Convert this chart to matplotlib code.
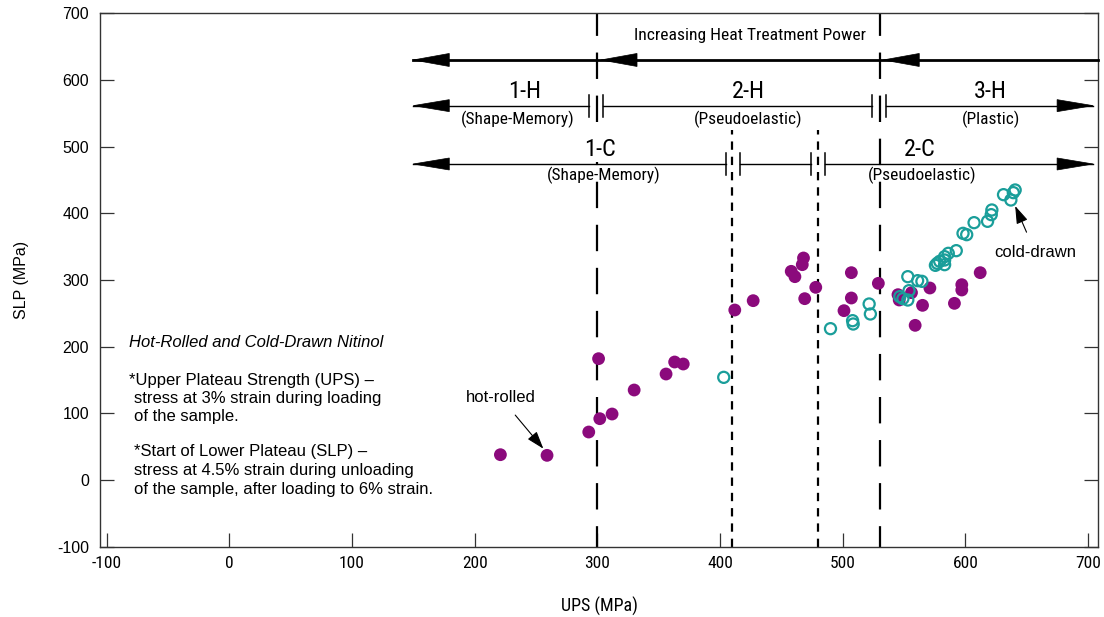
import matplotlib
matplotlib.use('Agg')
import matplotlib.pyplot as plt
from matplotlib.patches import Polygon
from matplotlib import font_manager as fm

plt.rcParams['lines.scale_dashes'] = False
REG = ['Liberation Sans', 'DejaVu Sans']
plt.rcParams['font.family'] = REG

# pick a narrow font if one is installed
_names = {f.name for f in fm.fontManager.ttflist}
_narrow = [n for n in ['Liberation Sans Narrow', 'Arial Narrow', 'Roboto Condensed',
                       'DejaVu Sans Condensed', 'Open Sans Condensed'] if n in _names]
if _narrow:
    NARROW = [_narrow[0], 'Liberation Sans', 'DejaVu Sans']
    NS = 1.0
else:
    NARROW = REG
    NS = 0.89

# ---------------- data ----------------
hot_ups = [221, 259, 293, 302, 301, 312, 330, 356, 363, 370, 412, 427, 458, 461,
           468, 467, 469, 478, 501, 507, 507, 529, 545, 546, 556, 559, 565, 571,
           591, 597, 597, 612]
hot_slp = [38, 37, 72, 92, 182, 99, 135, 159, 177, 174, 255, 269, 313, 305,
           333, 323, 272, 289, 254, 311, 273, 295, 278, 270, 281, 232, 262, 288,
           265, 293, 285, 311]

cold_ups = [403, 490, 508, 508.5, 521.5, 522.5, 546.5, 549, 553, 554, 553, 561,
            564.5, 575.5, 577, 579, 583, 583, 583, 586, 592.5, 598, 601, 607, 618,
            621, 621.5, 631, 637, 639, 640.5]
cold_slp = [154, 227, 239, 234, 264, 249, 275, 272, 270, 284, 305, 299,
            298, 322, 325, 328, 323, 330, 335, 340, 344, 370, 368, 386, 388,
            398, 405, 428, 420, 431, 435]

x_ticks = [-100, 0, 100, 200, 300, 400, 500, 600, 700]
y_ticks = [-100, 0, 100, 200, 300, 400, 500, 600, 700]

major_bounds = [300, 530]
minor_bounds = [410, 480]

PURPLE = '#8b0a7c'
TEAL = '#1a9e9a'

# ---------------- figure ----------------
W, H = 1104, 617
fig = plt.figure(figsize=(W / 100, H / 100), dpi=100)
L_px, R_px, T_px, B_px = 100, 1098, 13.3, 546.7
ax = fig.add_axes([L_px / W, 1 - B_px / H, (R_px - L_px) / W, (B_px - T_px) / H])
XL, XR, YB, YT = -105.3, 708, -100, 700
ax.set_xlim(XL, XR)
ax.set_ylim(YB, YT)
sx = (R_px - L_px) / (XR - XL)   # px per data unit
sy = (B_px - T_px) / (YT - YB)

# boundary lines
for xb in major_bounds:
    ax.plot([xb, xb], [YB, YT], color='black', lw=1.6,
            linestyle=(4, (19, 12)), zorder=2)
for xb in minor_bounds:
    ax.plot([xb, xb], [YB, 525], color='black', lw=1.6,
            linestyle=(0, (6, 5)), zorder=2)


def head(xtip, y, d, Lp=36, Wp=6):
    base = xtip - d * Lp / sx
    ax.add_patch(Polygon([(xtip, y), (base, y + Wp / sy), (base, y - Wp / sy)],
                         closed=True, facecolor='black', edgecolor='black',
                         lw=0.5, zorder=4))


def brk(x, y, hp=11):
    ax.plot([x, x], [y - hp / sy, y + hp / sy], color='black', lw=1.1, zorder=4)


# Row 1: increasing heat treatment power
y1 = 630
ax.plot([150, XR], [y1, y1], color='black', lw=2.0, zorder=3, clip_on=False)
for xt in [150, 303, 533]:
    head(xt, y1, -1, Lp=36, Wp=6.5)
ax.text(424, 666, 'Increasing Heat Treatment Power', family=NARROW,
        fontsize=12.6 * NS, ha='center', va='center')

# Row 2: hot-rolled regions
y2 = 561.5
for a, b in [(150, 293.5), (305, 523.5), (535.5, 704)]:
    ax.plot([a, b], [y2, y2], color='black', lw=1.0, zorder=3)
head(150, y2, -1)
head(704, y2, 1)
for xb in [293.5, 305, 523.5, 535.5]:
    brk(xb, y2)

# Row 3: cold-drawn regions
y3 = 474
for a, b in [(150, 405), (416, 474.5), (485.5, 704)]:
    ax.plot([a, b], [y3, y3], color='black', lw=1.0, zorder=3)
head(150, y3, -1)
head(704, y3, 1)
for xb in [405, 416, 474.5, 485.5]:
    brk(xb, y3)

big = 17.5 if _narrow else 17
small = 12.5 * NS
for x, y, s, fs in [(241, 582, '1-H', big), (235, 541, '(Shape-Memory)', small),
                    (423, 582, '2-H', big), (423, 541, '(Pseudoelastic)', small),
                    (620, 582, '3-H', big), (621, 541, '(Plastic)', small),
                    (563, 496, '2-C', big), (565, 457, '(Pseudoelastic)', small)]:
    ax.text(x, y, s, family=NARROW, fontsize=fs, ha='center', va='center', zorder=5)
ax.text(302, 496, '1-C', family=NARROW, fontsize=big, ha='center', va='center',
        zorder=5, bbox=dict(facecolor='white', edgecolor='none', pad=0.5))
ax.text(305, 457, '(Shape-Memory)', family=NARROW, fontsize=small, ha='center',
        va='center', zorder=5)

# data
ax.scatter(hot_ups, hot_slp, s=85, color=PURPLE, edgecolors='none', zorder=6)
ax.scatter(cold_ups, cold_slp, s=64, facecolors='none', edgecolors=TEAL,
           linewidths=1.6, zorder=7)

# annotations
ax.annotate('hot-rolled', xy=(256, 47), xytext=(221, 124),
            fontsize=12, ha='center', va='center',
            arrowprops=dict(arrowstyle='-|>,head_length=0.9,head_width=0.3',
                            color='black', lw=0.8, shrinkA=7, shrinkB=0))
ax.annotate('cold-drawn', xy=(640.5, 411), xytext=(657, 341),
            fontsize=12, ha='center', va='center',
            arrowprops=dict(arrowstyle='-|>,head_length=0.9,head_width=0.3',
                            color='black', lw=0.8, shrinkA=8, shrinkB=0))

# note block
tx1, tx2 = -81.4, -77.3
ax.text(tx1, 206, 'Hot-Rolled and Cold-Drawn Nitinol', fontsize=12, style='italic',
        ha='left', va='center')
for x, y, s in [(tx1, 150, '*Upper Plateau Strength (UPS) \u2013'),
                (tx2, 122.5, 'stress at 3% strain during loading'),
                (tx2, 95, 'of the sample.'),
                (tx2, 43, '*Start of Lower Plateau (SLP) \u2013'),
                (tx2, 14.5, 'stress at 4.5% strain during unloading'),
                (tx2, -13.5, 'of the sample, after loading to 6% strain.')]:
    ax.text(x, y, s, fontsize=12, ha='left', va='center')

# axes styling
ax.set_xticks(x_ticks)
ax.set_yticks(y_ticks)
ax.set_xticklabels([str(v) for v in x_ticks], family=NARROW, fontsize=12.5 * NS)
ax.set_yticklabels([str(v) for v in y_ticks], fontsize=11.5)
ax.tick_params(direction='in', length=10, width=0.9, right=True, top=False,
               color='#333333', pad=7)
ax.tick_params(axis='y', pad=8)
for sp in ax.spines.values():
    sp.set_color('#333333')
    sp.set_linewidth(1.0)
ax.set_xlabel('UPS (MPa)', family=NARROW, fontsize=13 * NS, labelpad=18)
ax.set_ylabel('SLP (MPa)', fontsize=11.5, labelpad=20)

fig.savefig('out.png', dpi=100)
